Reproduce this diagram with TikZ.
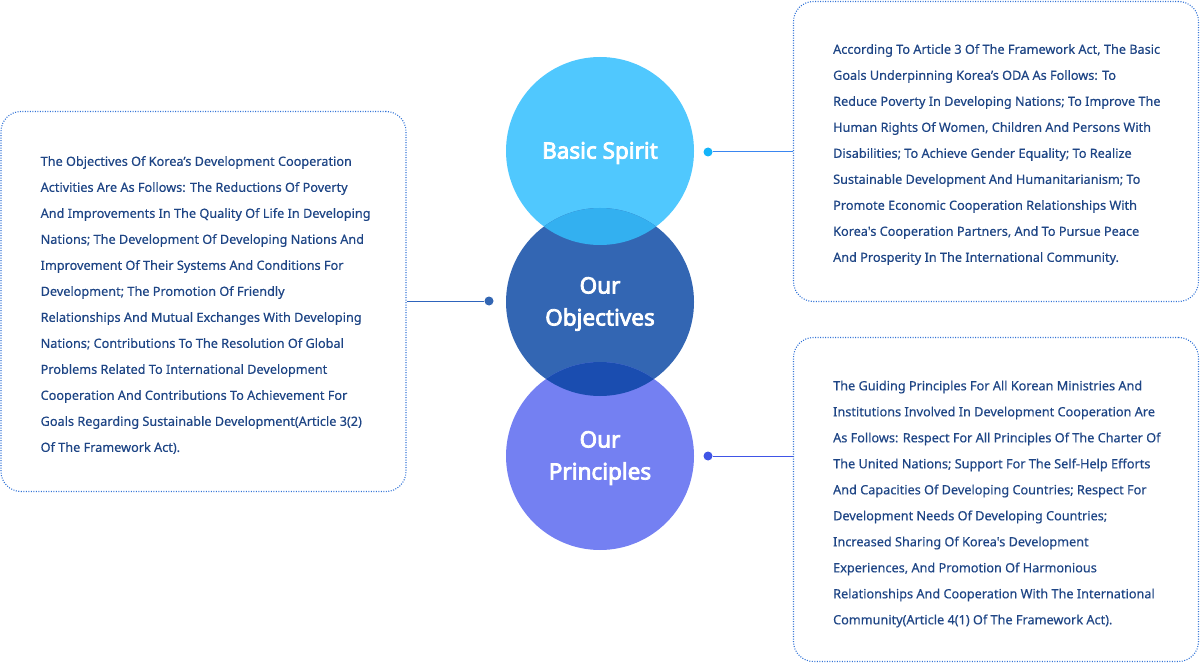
\documentclass[tikz,border=0pt]{standalone}
\usepackage{fontspec}
\setmainfont{Noto Sans}
\newfontfamily\titlefont{Noto Sans}[FakeBold=3.5]
\newfontfamily\bodyfont{Noto Sans}[FakeBold=0.4]
\usepackage{tikz}
\usetikzlibrary{positioning}
\definecolor{spirit}{HTML}{50c8fe}
\definecolor{objective}{HTML}{3366b3}
\definecolor{principle}{HTML}{7480f2}
\definecolor{overlap1}{HTML}{33b0f0}
\definecolor{overlap2}{HTML}{1a4db0}
\definecolor{navy}{HTML}{1e4585}
\definecolor{dotline}{HTML}{2f72d6}
\definecolor{link1}{HTML}{3a86f0}
\definecolor{dot1}{HTML}{14b4fa}
\definecolor{link2}{HTML}{2e64bc}
\definecolor{link3}{HTML}{4055e6}
\tikzset{
  bubble/.style={circle, minimum size=188pt, inner sep=0pt, text=white,
    font=\titlefont\fontsize{22.5}{32}\selectfont, align=center},
  infobox/.style={draw=dotline, line width=1.1pt, dash pattern=on 1pt off 1.5pt,
    rounded corners=20pt, minimum width=405pt, inner sep=0pt},
  infotext/.style={text=navy, align=left, inner sep=0pt, anchor=west,
    font=\bodyfont\fontsize{12.7}{26}\selectfont},
  linkdot/.style={circle, inner sep=0pt, minimum size=9pt}
}
\begin{document}
\begin{tikzpicture}[x=1pt, y=-1pt]
\useasboundingbox (0,0) rectangle (1200,663);

% the three circles
\node[bubble, fill=spirit] (spirit) at (600,151) {};
\node[bubble, fill=objective] (objectives) at (600,302) {};
\node[bubble, fill=principle] (principles) at (600,456) {};

% overlaps
\begin{scope}
\clip (600,151) circle (94);
\fill[overlap1] (600,302) circle (94);
\end{scope}
\begin{scope}
\clip (600,302) circle (94);
\fill[overlap2] (600,456) circle (94);
\end{scope}

\node[bubble] at ([yshift=-2pt]spirit) {Basic Spirit};
\node[bubble] at ([yshift=-2pt]objectives) {Our\\Objectives};
\node[bubble] at ([yshift=-2pt]principles) {Our\\Principles};

% text boxes
\node[infobox, minimum height=380pt] (objbox) at (203.5,301.5) {};
\node[infobox, minimum height=300pt] (spiritbox) at (996,151.5) {};
\node[infobox, minimum height=324pt] (prinbox) at (996,499.5) {};

\node[infotext] (objtext) at ([xshift=40pt, yshift=-3.5pt]objbox.west) {%
The Objectives Of Korea’s Development Cooperation\\
Activities Are As Follows: The Reductions Of Poverty\\
And Improvements In The Quality Of Life In Developing\\
Nations; The Development Of Developing Nations And\\
Improvement Of Their Systems And Conditions For\\
Development; The Promotion Of Friendly\\
Relationships And Mutual Exchanges With Developing\\
Nations; Contributions To The Resolution Of Global\\
Problems Related To International Development\\
Cooperation And Contributions To Achievement For\\
Goals Regarding Sustainable Development(Article 3(2)\\
Of The Framework Act).};

\node[infotext] (spirittext) at ([xshift=40pt, yshift=-3pt]spiritbox.west) {%
According To Article 3 Of The Framework Act, The Basic\\
Goals Underpinning Korea’s ODA As Follows: To\\
Reduce Poverty In Developing Nations; To Improve The\\
Human Rights Of Women, Children And Persons With\\
Disabilities; To Achieve Gender Equality; To Realize\\
Sustainable Development And Humanitarianism; To\\
Promote Economic Cooperation Relationships With\\
Korea's Cooperation Partners, And To Pursue Peace\\
And Prosperity In The International Community.};

\node[infotext] (printext) at ([xshift=40pt, yshift=-4.5pt]prinbox.west) {%
The Guiding Principles For All Korean Ministries And\\
Institutions Involved In Development Cooperation Are\\
As Follows: Respect For All Principles Of The Charter Of\\
The United Nations; Support For The Self-Help Efforts\\
And Capacities Of Developing Countries; Respect For\\
Development Needs Of Developing Countries;\\
Increased Sharing Of Korea's Development\\
Experiences, And Promotion Of Harmonious\\
Relationships And Cooperation With The International\\
Community(Article 4(1) Of The Framework Act).};

% connectors
\node[linkdot, fill=objective] (objdot) at (489,301) {};
\node[linkdot, fill=dot1] (spiritdot) at (708,152) {};
\node[linkdot, fill=link3] (prindot) at (708,456) {};

\draw[link2, line width=1pt] (objdot) -- (objbox.east |- objdot);
\draw[link1, line width=1pt] (spiritdot) -- (spiritbox.west |- spiritdot);
\draw[link3, line width=1pt] (prindot) -- (prinbox.west |- prindot);
\end{tikzpicture}
\end{document}
